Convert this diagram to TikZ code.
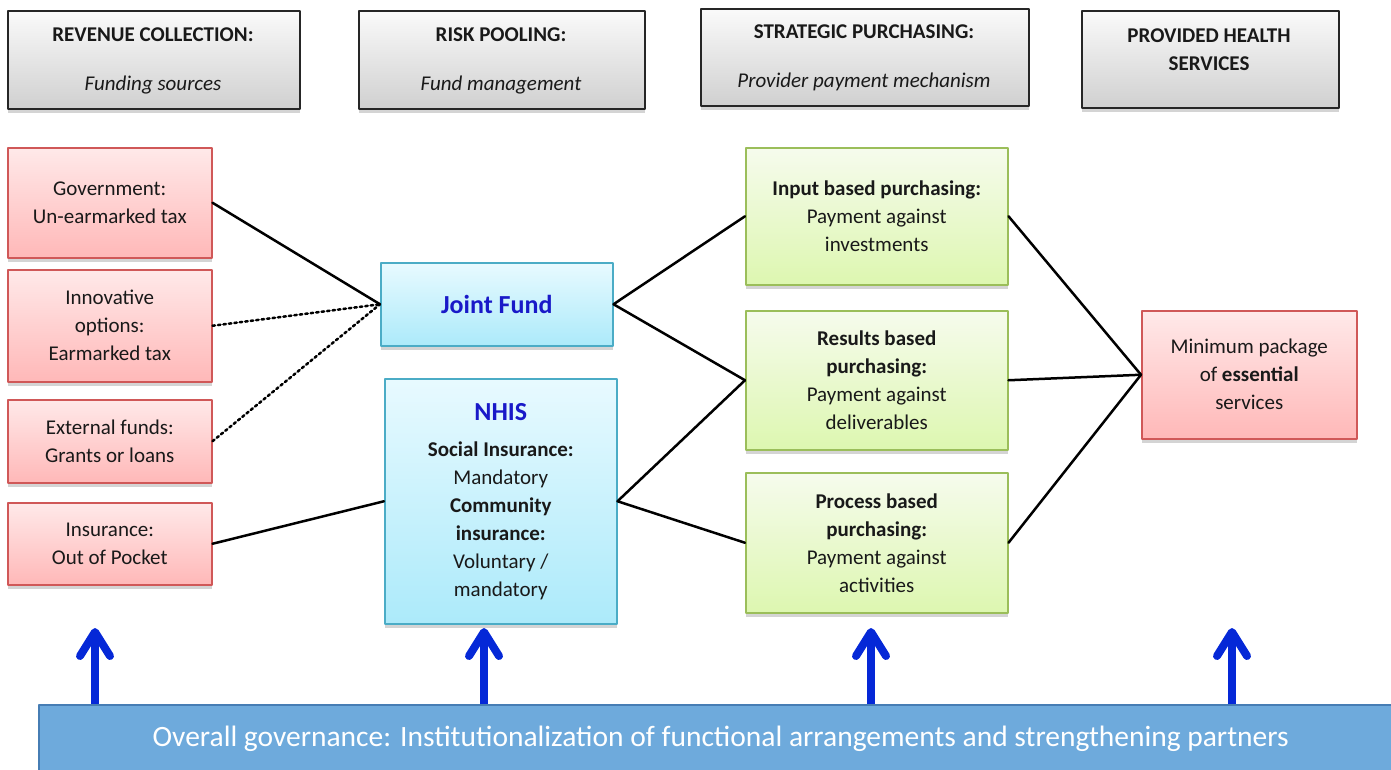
\documentclass[tikz,border=0pt]{standalone}
\usepackage{fontspec}
\setmainfont{Carlito}
\usetikzlibrary{shadows,arrows.meta}
\definecolor{pinktop}{RGB}{255,233,233}
\definecolor{pinkbot}{RGB}{255,184,184}
\definecolor{pinkline}{RGB}{208,88,88}
\definecolor{cyantop}{RGB}{232,250,255}
\definecolor{cyanbot}{RGB}{172,234,250}
\definecolor{cyanline}{RGB}{75,172,198}
\definecolor{limetop}{RGB}{246,251,237}
\definecolor{limebot}{RGB}{221,247,176}
\definecolor{limeline}{RGB}{155,190,90}
\definecolor{greytop}{RGB}{250,250,250}
\definecolor{greybot}{RGB}{208,208,208}
\definecolor{barfill}{RGB}{110,170,220}
\definecolor{barline}{RGB}{70,125,180}
\definecolor{arrowblue}{RGB}{5,40,215}
\definecolor{titleblue}{RGB}{25,25,200}
\definecolor{textdark}{RGB}{25,25,25}
\tikzset{>=latex,
  basebox/.style={draw, line width=1.5pt, inner sep=0pt, align=center, anchor=north west,
    text=textdark, font=\fontsize{21}{28}\selectfont,
    drop shadow={shadow xshift=0pt, shadow yshift=-4pt, fill=black!17, opacity=1}},
  sourcebox/.style={basebox, draw=pinkline, top color=pinktop, bottom color=pinkbot},
  poolbox/.style={basebox, draw=cyanline, top color=cyantop, bottom color=cyanbot},
  buybox/.style={basebox, draw=limeline, top color=limetop, bottom color=limebot},
  headbox/.style={basebox, draw=black!85, top color=greytop, bottom color=greybot},
  headtext/.style={align=center, text=textdark, font=\fontsize{21}{28}\selectfont\bfseries},
  subtext/.style={text=textdark, font=\fontsize{21}{28}\selectfont\itshape},
  link/.style={line width=2.5pt, line cap=round},
  softlink/.style={link, dash pattern=on 2.5pt off 3pt},
  govarrow/.style={line width=8pt, draw=arrowblue, -{Straight Barb[round, length=24pt, width=30pt]}}
}

\begin{document}
\begin{tikzpicture}[x=1pt, y=-1pt, line join=round]
    \useasboundingbox (0,0) rectangle (1391,769);
    % column headings
    \node[headbox, minimum width=292, minimum height=98] (hd1) at (7,10) {};
    \node[headbox, minimum width=286, minimum height=98] (hd2) at (358,10) {};
    \node[headbox, minimum width=328, minimum height=97] (hd3) at (700,8) {};
    \node[headbox, minimum width=257, minimum height=97] (hd4) at (1081,10) {};
    \node[headtext] (hd1t) at (153,35) {REVENUE COLLECTION:};
    \node[subtext] (hd1s) at (153,85) {Funding sources};
    \node[headtext] (hd2t) at (501,35) {RISK POOLING:};
    \node[subtext] (hd2s) at (501,85) {Fund management};
    \node[headtext] (hd3t) at (864,32) {STRATEGIC PURCHASING:};
    \node[subtext] (hd3s) at (864,82) {Provider payment mechanism};
    \node[headtext] (hd4t) at (1209,50) {PROVIDED HEALTH\\SERVICES};
    % funding sources
    \node[sourcebox, minimum width=204, minimum height=110] (gov) at (7,147) {Government:\\Un-earmarked tax};
    \node[sourcebox, minimum width=204, minimum height=112] (innov) at (7,269) {Innovative\\options:\\Earmarked tax};
    \node[sourcebox, minimum width=204, minimum height=83] (ext) at (7,399) {External funds:\\Grants or loans};
    \node[sourcebox, minimum width=204, minimum height=82] (ins) at (7,502) {Insurance:\\Out of Pocket};
    % pooling
    \node[poolbox, minimum width=232, minimum height=83, font=\fontsize{26}{28}\selectfont\bfseries, text=titleblue] (joint) at (380,262) {Joint Fund};
    \node[poolbox, minimum width=232, minimum height=245] (nhis) at (384,378)
        {{\fontsize{26}{28}\selectfont\bfseries\color{titleblue}NHIS}\\[8pt]
         \textbf{Social Insurance:}\\Mandatory\\\textbf{Community}\\\textbf{insurance:}\\Voluntary /\\mandatory};
    % purchasing
    \node[buybox, minimum width=262, minimum height=137] (input) at (745,147) {\textbf{Input based purchasing:}\\Payment against\\investments};
    \node[buybox, minimum width=262, minimum height=139] (results) at (745,310) {\textbf{Results based}\\\textbf{purchasing:}\\Payment against\\deliverables};
    \node[buybox, minimum width=262, minimum height=140] (process) at (745,472) {\textbf{Process based}\\\textbf{purchasing:}\\Payment against\\activities};
    % services
    \node[sourcebox, minimum width=215, minimum height=128] (minpack) at (1141,310) {Minimum package\\of \textbf{essential}\\services};
    % links
    \draw[link] (gov.east) -- (joint.west);
    \draw[softlink] (innov.east) -- (joint.west);
    \draw[softlink] (ext.east) -- (joint.west);
    \draw[link] (ins.east) -- (nhis.west);
    \draw[link] (input.west) -- (joint.east) -- (results.west);
    \draw[link] (results.west) -- (nhis.east) -- (process.west);
    \draw[link] (input.east) -- (minpack.west);
    \draw[link] (results.east) -- (minpack.west);
    \draw[link] (process.east) -- (minpack.west);
    % governance bar
    \node[draw=barline, fill=barfill, line width=1.5pt, anchor=north west, minimum width=1364, minimum height=68, inner sep=0pt,
        text=white, font=\fontsize{29.5}{30}\selectfont] (govbar) at (38,704)
        {Overall governance: Institutionalization of functional arrangements and strengthening partners};
    \foreach \x [count=\i] in {95,484,871,1232} {
        \coordinate (tip\i) at (\x,628);
        \draw[govarrow] (tip\i |- govbar.north) -- (tip\i);
    }
\end{tikzpicture}
\end{document}
